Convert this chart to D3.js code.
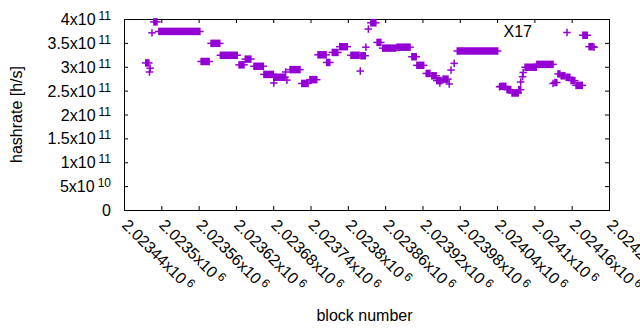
<!DOCTYPE html>
<html>
<head>
<meta charset="utf-8">
<script src="https://cdn.jsdelivr.net/npm/d3@7"></script>
<style>
body { margin: 0; background: white; }
text { font-family: "Liberation Sans", Arial, sans-serif; fill: black; }
</style>
</head>
<body>
<svg id="mainSvg" width="640" height="330"></svg>
<script>
// runs of consecutive blocks sharing one hashrate value (single block: start == end)
var runStart = [2023475, 2023482, 2023481, 2023485, 2023488, 2023496, 2023564, 2023580, 2023595, 2023625,
                2023635, 2023649, 2023665, 2023681, 2023681, 2023700, 2023702, 2023707, 2023726, 2023739,
                2023752, 2023766, 2023775, 2023787, 2023805, 2023820, 2023821, 2023829, 2023833, 2023837,
                2023847, 2023856, 2023879, 2023903, 2023911, 2023926, 2023935, 2023943, 2023948, 2023953,
                2023963, 2023966, 2023971, 2023976, 2024044, 2024046, 2024056, 2024064, 2024075, 2024078,
                2024081, 2024082, 2024085, 2024104, 2024130, 2024133, 2024138, 2024143, 2024151, 2024159,
                2024167, 2024178, 2024188, 2024196];
var runEnd   = [2023480, 2023482, 2023481, 2023485, 2023493, 2023562, 2023577, 2023594, 2023622, 2023633,
                2023644, 2023664, 2023680, 2023699, 2023681, 2023700, 2023702, 2023723, 2023736, 2023750,
                2023765, 2023771, 2023784, 2023799, 2023818, 2023820, 2023828, 2023829, 2023833, 2023845,
                2023853, 2023877, 2023900, 2023910, 2023922, 2023932, 2023942, 2023950, 2023948, 2023961,
                2023963, 2023966, 2023971, 2024041, 2024044, 2024054, 2024062, 2024074, 2024078, 2024078,
                2024081, 2024082, 2024103, 2024130, 2024130, 2024136, 2024141, 2024149, 2024157, 2024165,
                2024177, 2024185, 2024194, 2024196];
var hashrate = [3.08e11, 2.97e11, 2.89e11, 3.71e11, 3.94e11, 3.74e11, 3.11e11, 3.49e11, 3.24e11, 3.04e11,
                3.16e11, 3.01e11, 2.84e11, 2.78e11, 2.66e11, 2.89e11, 2.72e11, 2.94e11, 2.65e11, 2.73e11,
                3.25e11, 3.09e11, 3.30e11, 3.42e11, 3.24e11, 2.91e11, 3.23e11, 3.41e11, 3.79e11, 3.92e11,
                3.51e11, 3.39e11, 3.41e11, 3.21e11, 3.03e11, 2.86e11, 2.81e11, 2.71e11, 2.66e11, 2.74e11,
                2.64e11, 2.93e11, 3.07e11, 3.33e11, 2.58e11, 2.59e11, 2.52e11, 2.45e11, 2.52e11, 2.68e11,
                2.79e11, 2.88e11, 2.99e11, 3.05e11, 2.65e11, 2.67e11, 2.85e11, 2.81e11, 2.78e11, 2.71e11,
                2.61e11, 3.66e11, 3.42e11, 3.41e11];

var xTicks = [2023440, 2023500, 2023560, 2023620, 2023680, 2023740, 2023800,
              2023860, 2023920, 2023980, 2024040, 2024100, 2024160, 2024220];
var yTicks = [0, 5e10, 1e11, 1.5e11, 2e11, 2.5e11, 3e11, 3.5e11, 4e11];
var seriesName = "X17";

var pointColor = "#9400d3";   // gnuplot first colour
var fontSize = 16;
var supSize = 12;
var armLen = 3.75;            // half size of the "+" marker

window.addEventListener("load", drawChart);

/**
 * write a value like 2.02344x10^6 into a text node, exponent as superscript
 */
function writeSci(text, v)
{
    text.text(null);
    if (v === 0) { text.append("tspan").text("0"); return; }
    let e = Math.floor(Math.log10(v) + 1e-9);
    let m = parseFloat((v / Math.pow(10, e)).toFixed(5));
    text.append("tspan").text(m + "x10");
    text.append("tspan").attr("dx", 3).attr("dy", -5)
        .attr("font-size", supSize).text(e);
}

function drawChart()
{
    const svg = d3.select("#mainSvg");
    svg.attr("font-size", fontSize);
    const margin = {top: 19, bottom: 120, left: 124, right: 31};
    const width = +svg.attr("width"), height = +svg.attr("height");

    const x = d3.scaleLinear().domain([xTicks[0], xTicks[xTicks.length - 1]])
        .range([margin.left, width - margin.right]);
    const y = d3.scaleLinear().domain([yTicks[0], yTicks[yTicks.length - 1]])
        .range([height - margin.bottom, margin.top]);
    const x0 = x.range()[0], x1 = x.range()[1], y0 = y.range()[0], y1 = y.range()[1];

    // tick marks on all four sides, pointing inward
    const noDomain = g => g.select(".domain").remove();
    svg.append("g").attr("transform", `translate(${x0},0)`)
        .call(d3.axisLeft(y).tickValues(yTicks).tickSize(-4).tickFormat("")).call(noDomain);
    svg.append("g").attr("transform", `translate(${x1},0)`)
        .call(d3.axisRight(y).tickValues(yTicks).tickSize(-4).tickFormat("")).call(noDomain);
    svg.append("g").attr("transform", `translate(0,${y0})`)
        .call(d3.axisBottom(x).tickValues(xTicks).tickSize(-4).tickFormat("")).call(noDomain);
    svg.append("g").attr("transform", `translate(0,${y1})`)
        .call(d3.axisTop(x).tickValues(xTicks).tickSize(-4).tickFormat("")).call(noDomain);
    svg.selectAll(".tick line").attr("stroke", "black");

    // border
    svg.append("rect")
        .attr("x", x0 + 0.5).attr("y", y1 + 0.5)
        .attr("width", x1 - x0).attr("height", y0 - y1)
        .attr("fill", "none").attr("stroke", "black").attr("stroke-width", 1);

    // y tick labels
    svg.append("g").selectAll("text").data(yTicks).join("text")
        .attr("x", x0 - 13).attr("y", d => y(d) + 0.5)
        .attr("dy", "0.35em")
        .attr("text-anchor", "end")
        .each(function (d) { writeSci(d3.select(this), d); });

    // x tick labels, rotated
    svg.append("g").selectAll("text").data(xTicks).join("text")
        .attr("transform", d => `translate(${x(d) - 3},${y0 + 16}) rotate(45)`)
        .attr("text-anchor", "start")
        .each(function (d) { writeSci(d3.select(this), d); });

    // axis titles
    svg.append("text")
        .attr("transform", `translate(22,${(y0 + y1) / 2}) rotate(-90)`)
        .attr("text-anchor", "middle")
        .text("hashrate [h/s]");
    svg.append("text")
        .attr("x", (x0 + x1) / 2 - 2).attr("y", 321)
        .attr("text-anchor", "middle")
        .text("block number");

    // data: each run is a stack of "+" markers -> box plus horizontal arm
    const idx = d3.range(hashrate.length);
    const marks = svg.append("g").attr("fill", pointColor).attr("stroke", pointColor);
    marks.selectAll("rect").data(idx).join("rect")
        .attr("x", i => x(runStart[i]) - 0.75)
        .attr("y", i => y(hashrate[i]) - armLen)
        .attr("width", i => x(runEnd[i]) - x(runStart[i]) + 1.5)
        .attr("height", armLen * 2)
        .attr("stroke", "none");
    marks.selectAll("line").data(idx).join("line")
        .attr("x1", i => x(runStart[i]) - armLen)
        .attr("x2", i => x(runEnd[i]) + armLen)
        .attr("y1", i => y(hashrate[i]))
        .attr("y2", i => y(hashrate[i]))
        .attr("stroke-width", 1.5);

    // key
    svg.append("text")
        .attr("x", 532).attr("y", 37)
        .attr("text-anchor", "end")
        .text(seriesName);
    svg.append("path")
        .attr("d", `M${567 - armLen},32.5h${armLen * 2}M567,${32.5 - armLen}v${armLen * 2}`)
        .attr("stroke", pointColor).attr("stroke-width", 1.5).attr("fill", "none");
}
</script>
</body>
</html>
